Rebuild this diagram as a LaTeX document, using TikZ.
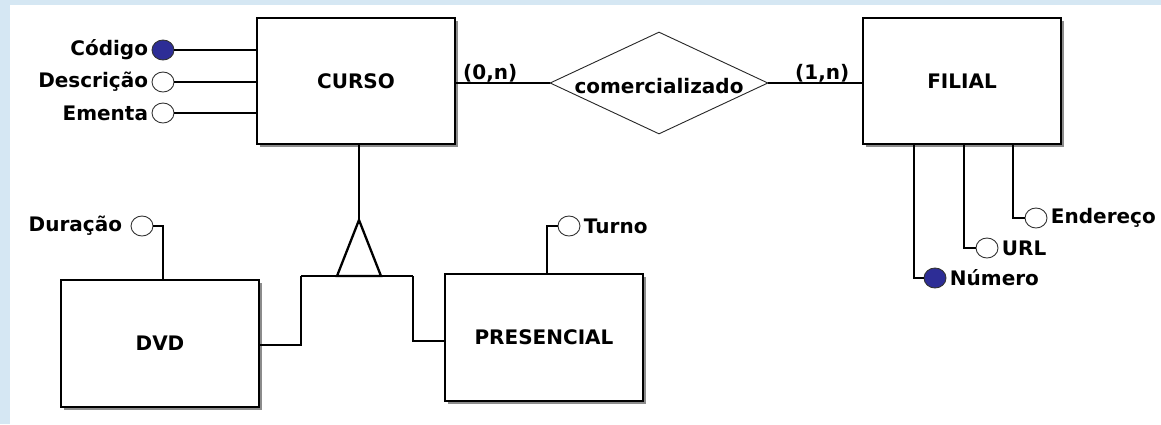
\documentclass[tikz,border=0pt]{standalone}
\usepackage{fontspec}
\setmainfont{DejaVu Sans}
\usetikzlibrary{shapes.geometric,shadows}
\definecolor{bgblue}{RGB}{213,231,243}
\definecolor{keyblue}{RGB}{45,45,150}
\begin{document}
\begin{tikzpicture}[x=1pt,y=-1pt,
  every node/.style={font=\fontsize{20}{23}\selectfont\bfseries},
  entity/.style={draw, line width=1.8pt, fill=white, minimum width=198pt,
    minimum height=126pt, inner sep=0pt,
    drop shadow={shadow xshift=2.5pt, shadow yshift=-2.5pt, fill=black!45, opacity=1}},
  rel/.style={diamond, draw=black!85, line width=0.9pt, fill=white,
    minimum width=218pt, minimum height=102pt, inner sep=0pt},
  attr/.style={ellipse, draw=black!80, line width=0.9pt, fill=white,
    minimum width=22pt, minimum height=20pt, inner sep=0pt, label distance=1pt},
  keyattr/.style={attr, fill=keyblue},
  conn/.style={line width=1.3pt},
  isatri/.style={line width=2.3pt, line join=miter},
  card/.style={inner sep=0pt, anchor=base west}]

% background
\fill[bgblue] (0,0) rectangle (1161,424);
\fill[white] (10,5) rectangle (1161,424);
\useasboundingbox (0,0) rectangle (1161,424);

% entities
\node[entity] (curso) at (356,81) {CURSO};
\node[entity] (filial) at (962,81) {FILIAL};
\node[entity, minimum height=127pt] (dvd) at (160,343.5) {DVD};
\node[entity, minimum height=127pt] (pres) at (544,337.5) {PRESENCIAL};

% relationship
\node[rel, label={[yshift=-3pt]center:comercializado}] (com) at (659,83) {};
\draw[conn] (com.west) -- (com.west -| curso.east);
\draw[conn] (com.east) -- (com.east -| filial.west);
\node[card] (c0n) at (463,79) {(0,n)};
\node[card] (c1n) at (795,79) {(1,n)};

% CURSO attributes
\node[keyattr, label=left:Código] (cod) at (163,50) {};
\node[attr, label=left:Descrição] (desc) at (163,82) {};
\node[attr, label=left:Ementa] (em) at (163,113) {};
\draw[conn] (cod) -- (cod -| curso.west);
\draw[conn] (desc) -- (desc -| curso.west);
\draw[conn] (em) -- (em -| curso.west);

% FILIAL attributes
\node[keyattr, label=right:Número] (num) at (935,278) {};
\node[attr, label=right:URL] (url) at (987,248) {};
\node[attr, label=right:Endereço] (end) at (1036,218) {};
\coordinate (numk) at (914,144);
\coordinate (urlk) at (964,144);
\coordinate (endk) at (1013,144);
\draw[conn] (numk) |- (num.west);
\draw[conn] (urlk) |- (url.west);
\draw[conn] (endk) |- (end.west);

% DVD attribute
\node[attr, label={[label distance=5pt]left:Duração}] (dur) at (142,226) {};
\coordinate (durk) at (163,280);
\draw[conn] (dur.east) -| (durk);

% PRESENCIAL attribute
\node[attr, label=right:Turno] (tur) at (569,226) {};
\coordinate (turk) at (547,274);
\draw[conn] (tur.west) -| (turk);

% specialisation
\coordinate (apex) at (359,220);
\coordinate (isaL) at (301,276);
\coordinate (isaR) at (413,276);
\draw[conn] (curso.south -| apex) -- (apex);
\draw[conn] (isaL) -- (isaR);
\draw[isatri] (337,276) -- (apex) -- (381,276) -- cycle;
\draw[conn] (isaL) |- ([yshift=-1.5pt]dvd.east);
\draw[conn] (isaR) |- ([yshift=-3.5pt]pres.west);
\end{tikzpicture}
\end{document}
